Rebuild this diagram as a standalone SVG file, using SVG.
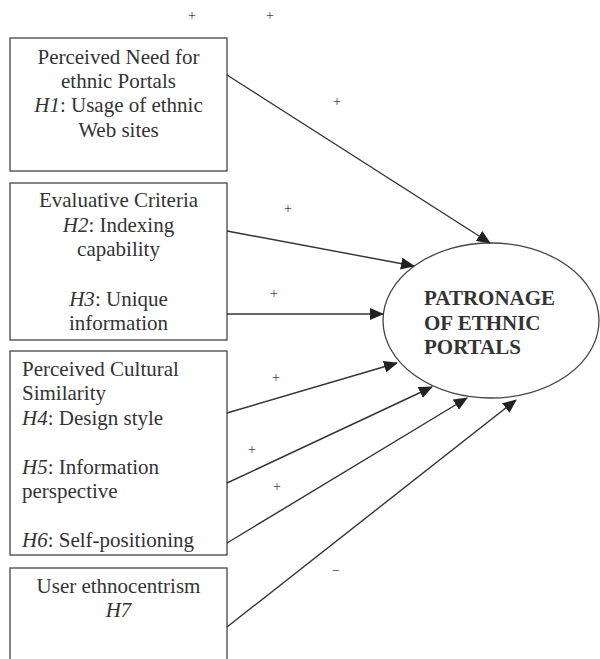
<svg xmlns="http://www.w3.org/2000/svg" width="600" height="659" viewBox="0 0 600 659">
<style>
.box{fill:#fff;stroke:#444;stroke-width:1.3}
.t{font-family:"Liberation Serif","Times New Roman",serif;font-size:21px;fill:#333}
.c{text-anchor:middle}
.b{font-weight:bold;fill:#333}
.s{font-family:"Liberation Serif","Times New Roman",serif;font-size:14px;fill:#444;text-anchor:middle}
.ln{stroke:#333;stroke-width:1.4;fill:none;marker-end:url(#ah)}
</style>
<defs>
<marker id="ah" markerUnits="userSpaceOnUse" markerWidth="14" markerHeight="12" viewBox="0 0 14 12" refX="13" refY="6" orient="auto">
<path d="M0,0 L14,6 L0,12 Z" fill="#222"/>
</marker>
</defs>
<rect width="600" height="659" fill="#fff"/>
<g id="labels-top">
<text class="s" x="192" y="20">+</text>
<text class="s" x="270" y="20">+</text>
</g>
<g id="n1">
<rect class="box" x="10" y="38" width="217" height="133"/>
<text class="t c" x="118.5" y="64">Perceived Need for</text>
<text class="t c" x="118.5" y="88">ethnic Portals</text>
<text class="t c" x="118.5" y="112"><tspan font-style="italic">H1</tspan>: Usage of ethnic</text>
<text class="t c" x="118.5" y="137">Web sites</text>
</g>
<g id="n2">
<rect class="box" x="10" y="183" width="217" height="157"/>
<text class="t c" x="118.5" y="207">Evaluative Criteria</text>
<text class="t c" x="118.5" y="232"><tspan font-style="italic">H2</tspan>: Indexing</text>
<text class="t c" x="118.5" y="256">capability</text>
<text class="t c" x="118.5" y="306"><tspan font-style="italic">H3</tspan>: Unique</text>
<text class="t c" x="118.5" y="330">information</text>
</g>
<g id="n3">
<rect class="box" x="10" y="351" width="217" height="204"/>
<text class="t" x="22" y="376">Perceived Cultural</text>
<text class="t" x="22" y="400">Similarity</text>
<text class="t" x="22" y="425"><tspan font-style="italic">H4</tspan>: Design style</text>
<text class="t" x="22" y="474"><tspan font-style="italic">H5</tspan>: Information</text>
<text class="t" x="22" y="498">perspective</text>
<text class="t" x="22" y="547"><tspan font-style="italic">H6</tspan>: Self-positioning</text>
</g>
<g id="n4">
<rect class="box" x="10" y="568" width="217" height="100"/>
<text class="t c" x="118.5" y="593">User ethnocentrism</text>
<text class="t c" x="118.5" y="617" font-style="italic">H7</text>
</g>
<g id="n5">
<ellipse class="box" cx="491" cy="320.5" rx="108" ry="77.5"/>
<text class="t b" x="424" y="305">PATRONAGE</text>
<text class="t b" x="424" y="330">OF ETHNIC</text>
<text class="t b" x="424" y="354">PORTALS</text>
</g>
<g id="connectors">
<line class="ln" x1="227" y1="75" x2="490" y2="243"/>
<line class="ln" x1="227" y1="231" x2="414" y2="266"/>
<line class="ln" x1="227" y1="314" x2="383" y2="314"/>
<line class="ln" x1="227" y1="413" x2="397" y2="363"/>
<line class="ln" x1="227" y1="483" x2="432" y2="387"/>
<line class="ln" x1="227" y1="543" x2="467" y2="398"/>
<line class="ln" x1="227" y1="627" x2="516" y2="400"/>
</g>
<g id="signs">
<text class="s" x="337" y="106">+</text>
<text class="s" x="288" y="213">+</text>
<text class="s" x="274" y="298">+</text>
<text class="s" x="276" y="382">+</text>
<text class="s" x="252" y="454">+</text>
<text class="s" x="277" y="491">+</text>
<text class="s" x="336" y="575">−</text>
</g>
</svg>
